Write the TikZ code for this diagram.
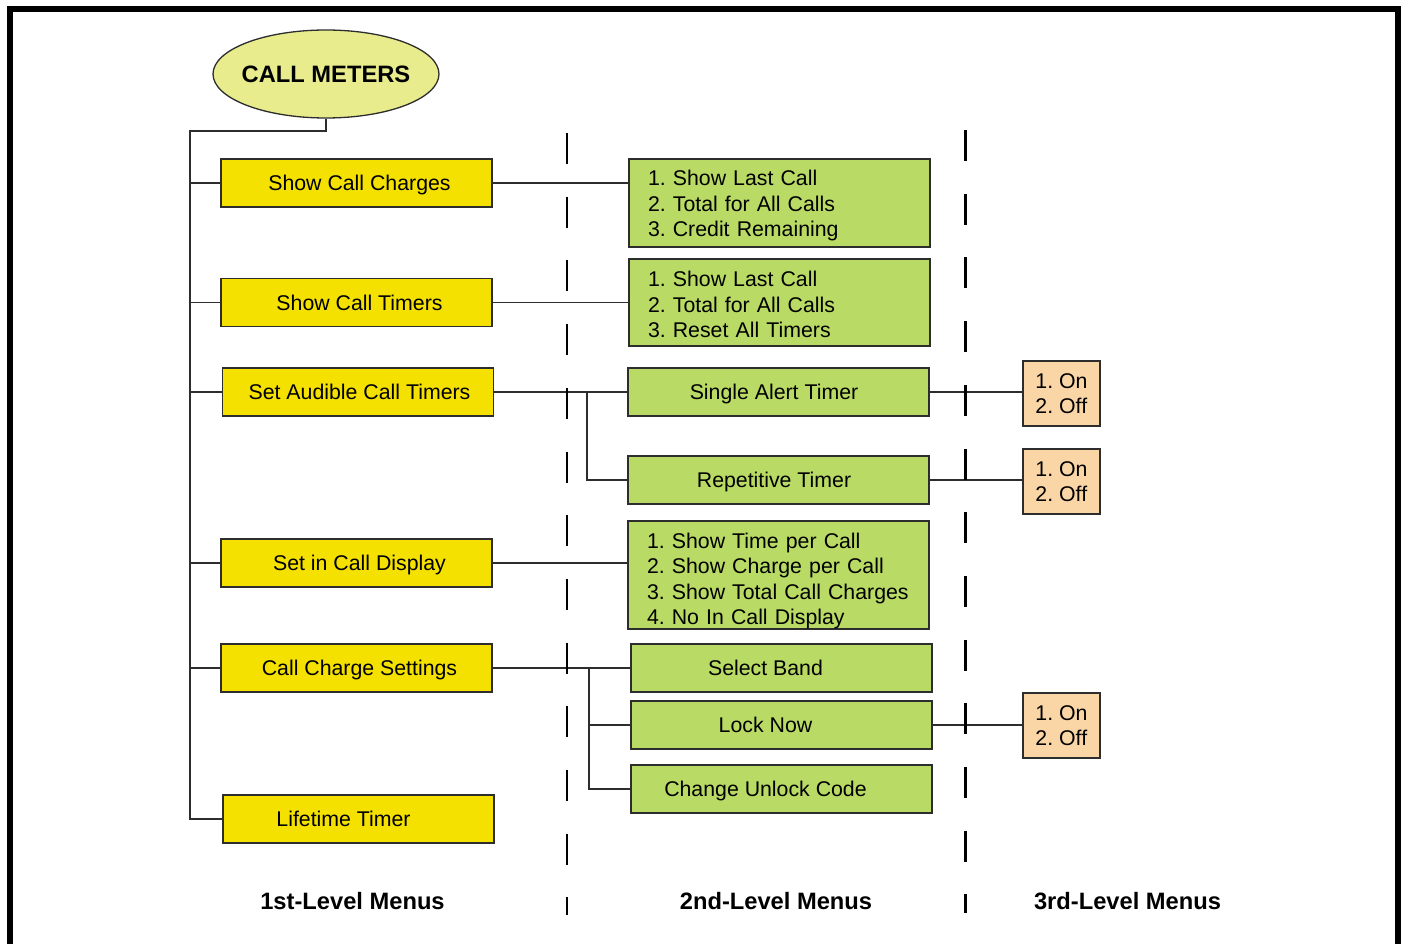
\documentclass[tikz,border=0pt]{standalone}
\usepackage{fontspec}
\setmainfont{Liberation Sans}
\usetikzlibrary{shapes.geometric}
\definecolor{levelone}{RGB}{245,225,0}
\definecolor{leveltwo}{RGB}{185,218,100}
\definecolor{levelthree}{RGB}{250,214,166}
\definecolor{rootfill}{RGB}{232,236,140}
\definecolor{edge}{RGB}{45,45,45}
\frenchspacing

\begin{document}
\begin{tikzpicture}[x=1pt,y=-1pt,
  box/.style={draw=edge, line width=1.5pt, rectangle, inner sep=0pt,
    font=\fontsize{21.3}{25.5}\selectfont},
  menuone/.style={box, fill=levelone, minimum width=271pt, minimum height=48pt,
    text height=15.3pt, text depth=0pt},
  menutwo/.style={box, fill=leveltwo, minimum width=301pt, minimum height=48pt,
    text height=15.3pt, text depth=0pt},
  listbox/.style={box, fill=leveltwo, text width=263pt, inner xsep=19pt,
    align=left},
  onoff/.style={box, fill=levelthree, minimum width=77pt, minimum height=65pt,
    align=left},
  link/.style={draw=edge, line width=1.3pt},
  divider/.style={draw=black, line width=2.8pt, dash pattern=on 31pt off 32.7pt},
  level/.style={font=\fontsize{23.7}{28}\selectfont\bfseries},
  nudge/.style={execute at begin node={\hspace*{#1}}}
]
\useasboundingbox (0,0) rectangle (1401,944);
\clip (0,0) rectangle (1401,944);

% outer frame
\draw[line width=6pt] (10,9) rectangle (1398,990);

% root
\node[ellipse, draw=edge, line width=1.3pt, fill=rootfill, minimum width=226pt,
  minimum height=88pt, inner sep=0pt, level] (root) at (326,74)
  {\makebox[0pt]{CALL METERS}};

% first-level menus
\node[menuone, nudge=6pt] (charges)  at (356.5,183)   {Show Call Charges};
\node[menuone, nudge=6pt] (timers)   at (356.5,302.5) {Show Call Timers};
\node[menuone, nudge=3pt] (audible)  at (358,392)     {Set Audible Call Timers};
\node[menuone, nudge=6pt] (incall)   at (356.5,563)   {Set in Call Display};
\node[menuone, nudge=6pt] (settings) at (356.5,668)   {Call Charge Settings};
\node[menuone, nudge=-30pt] (lifetime) at (358.5,819) {Lifetime Timer};

% second-level menus
\node[listbox, minimum height=88pt, text height=21.3pt] (chargelist) at (779.5,203)
  {1. Show Last Call\\2. Total for All Calls\\3. Credit Remaining};
\node[listbox, minimum height=87pt, text height=19.3pt] (timerlist) at (779.5,302.5)
  {1. Show Last Call\\2. Total for All Calls\\3. Reset All Timers};
\node[menutwo, nudge=-9pt] (single) at (778.5,392) {Single Alert Timer};
\node[menutwo, nudge=-9pt] (repeat) at (778.5,480) {Repetitive Timer};
\node[listbox, minimum height=108pt, text height=27.3pt] (displaylist) at (778.5,575)
  {1. Show Time per Call\\2. Show Charge per Call\\3. Show Total Call Charges\\4. No In Call Display};
\node[menutwo, nudge=-32pt] (band)   at (781.5,668) {Select Band};
\node[menutwo, nudge=-32pt] (lock)   at (781.5,725) {Lock Now};
\node[menutwo, nudge=-32pt] (unlock) at (781.5,789) {Change Unlock Code};

% third-level menus
\node[onoff] (singleopt) at (1061.5,393.5) {1. On\\2. Off};
\node[onoff] (repeatopt) at (1061.5,481.5) {1. On\\2. Off};
\node[onoff] (lockopt)   at (1061.5,725.5) {1. On\\2. Off};

% trunk from the root to the first-level menus
\coordinate (trunk) at (190,131);
\draw[link] (root.south) |- (trunk) |- (lifetime.west);
\foreach \n in {charges,timers,audible,incall,settings}
  \draw[link] (trunk |- \n.west) -- (\n.west);

% first to second level
\draw[link] (charges.east) -- (charges.east -| chargelist.west);
\draw[link] (timers.east) -- (timers.east -| timerlist.west);
\draw[link] (incall.east) -- (incall.east -| displaylist.west);
\coordinate (audfork) at (587,0);
\draw[link] (audible.east) -- (audible.east -| single.west);
\draw[link] (audible.east -| audfork) |- (repeat.west);
\coordinate (setfork) at (589,0);
\draw[link] (settings.east) -- (settings.east -| band.west);
\draw[link] (settings.east -| setfork) |- (lock.west);
\draw[link] (settings.east -| setfork) |- (unlock.west);

% second to third level
\draw[link] (single.east) -- (single.east -| singleopt.west);
\draw[link] (repeat.east) -- (repeat.east -| repeatopt.west);
\draw[link] (lock.east) -- (lock.east -| lockopt.west);

% column dividers
\coordinate (divAtop) at (567,133);
\coordinate (divAbot) at (567,915);
\coordinate (divBtop) at (965.5,130);
\coordinate (divBbot) at (965.5,913);
\draw[divider] (divAtop) -- (divAbot);
\draw[divider] (divBtop) -- (divBbot);

% column titles
\node[level] (firsttitle)  at (352.5,901) {1st-Level Menus};
\node[level] (secondtitle) at (776,901)   {2nd-Level Menus};
\node[level] (thirdtitle)  at (1127.5,901) {3rd-Level Menus};
\end{tikzpicture}
\end{document}
